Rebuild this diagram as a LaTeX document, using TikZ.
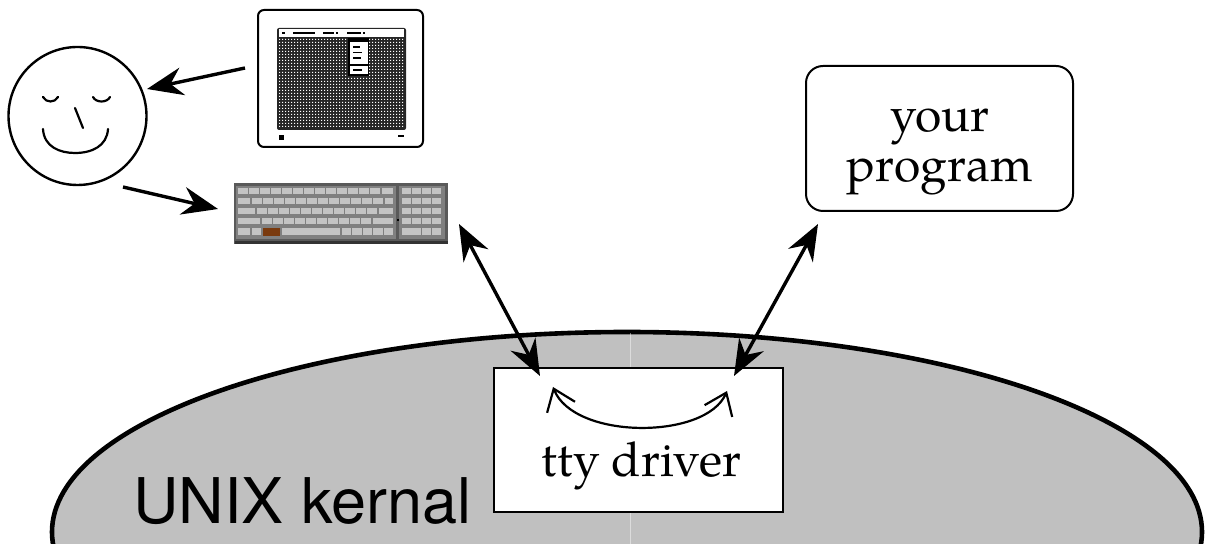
\documentclass[tikz,border=0pt]{standalone}
\usepackage{fontspec}
\setmainfont{texgyrepagella-regular.otf}
\newfontfamily\kernelfont{TeX Gyre Heros}
\usetikzlibrary{arrows.meta,patterns}

\definecolor{kernelgray}{HTML}{C0C0C0}
\definecolor{kbframe}{HTML}{5A5A5A}
\definecolor{kbgap}{HTML}{808080}
\definecolor{kbkey}{HTML}{C4C4C4}
\definecolor{kbbrown}{HTML}{7A3A0E}

% fine dot grid for the monitor screen
\pgfdeclarepatternformonly{screendots}{\pgfqpoint{0pt}{0pt}}{\pgfqpoint{1.5pt}{1.5pt}}{\pgfqpoint{1.5pt}{1.5pt}}{%
  \pgfpathrectangle{\pgfqpoint{0pt}{0pt}}{\pgfqpoint{0.7pt}{0.7pt}}\pgfusepath{fill}}

\tikzset{
  bigtip/.tip={Stealth[length=18pt,width=14pt,inset=6pt]},
  smalltip/.tip={Straight Barb[length=10pt,width=15pt]},
  bigarrow/.style={line width=1.7pt,-{bigtip}},
  bothways/.style={line width=1.7pt,{bigtip}-{bigtip}},
  loopback/.style={line width=1.1pt,{smalltip}-{smalltip}},
  serif/.style={font=\fontsize{24}{25}\selectfont,inner sep=0pt},
  key/.style={fill=kbkey},
}

\begin{document}
\begin{tikzpicture}[x=0.5pt,y=-0.5pt]
\useasboundingbox (0,0) rectangle (1205,544);
\clip (0,0) rectangle (1205,544);

% ---- kernel ----
\draw[line width=2.3pt,fill=kernelgray] (627,532) ellipse [x radius=287.5pt,y radius=100pt];
\draw[white,opacity=0.45,line width=0.5pt] (630,333) -- (630,544);
\node[font=\kernelfont\fontsize{31.5}{33}\selectfont,anchor=base west,inner sep=0pt] (kernel) at (133,524) {UNIX kernal};

% ---- tty driver ----
\node[draw,line width=1pt,fill=white,minimum width=144.5pt,minimum height=72pt,inner sep=0pt] (tty) at (638.5,440) {};
\node[serif,anchor=base] (ttylabel) at (641.5,477) {tty driver};
\coordinate (ttyL) at (540,376);
\coordinate (ttyR) at (734,376);
\coordinate (loopL) at (553,387);
\coordinate (loopR) at (727,391);
\draw[loopback] (loopL) .. controls (574,440) and (706,440) .. (loopR);

% ---- your program ----
\node[draw,line width=1pt,rounded corners=8.5pt,minimum width=133.5pt,minimum height=72.5pt,inner sep=0pt] (prog) at (939.5,138.5) {};
\node[serif,anchor=base] (progA) at (940,132) {your};
\node[serif,anchor=base] (progB) at (939.5,182) {program};
\coordinate (progIn) at (818,224);

% ---- face ----
\node[draw,circle,line width=1.2pt,minimum size=69pt,inner sep=0pt] (face) at (77.5,116) {};
\begin{scope}[line width=1.1pt,line cap=round]
  \draw (43,97) .. controls (46,103) and (55,103) .. (58,97);
  \draw (93,97) .. controls (96,103) and (107,103) .. (110,97);
  \draw (75,108) -- (83,128);
  \draw (43,129) .. controls (44,147) and (60,153) .. (75,153)
                 .. controls (92,153) and (107,146) .. (108,129);
\end{scope}
\coordinate (faceIn) at (147,89);
\coordinate (faceOut) at (123,187);

% ---- monitor ----
\node[draw,line width=1pt,rounded corners=3pt,minimum width=82.5pt,minimum height=68.5pt,inner sep=0pt] (mon) at (340.5,78.5) {};
\fill[black!85,rounded corners=1pt] (277,28) rectangle (406,130);
\fill[pattern=screendots,pattern color=white] (279,39) rectangle (404,128);
\fill[white] (279,29.5) rectangle (404,37.5);
\begin{scope}[line width=1pt]
  \draw (282,33.5) -- (285,33.5);
  \draw (293,33.5) -- (315,33.5);
  \draw (323,33.5) -- (334,33.5);
  \draw (336,33.5) -- (338,33.5);
  \draw (347,33.5) -- (361,33.5);
  \draw (363,33.5) -- (365,33.5);
\end{scope}
\fill[black] (348,38) rectangle (369,76);
\fill[white] (349.5,42) rectangle (367.5,64);
\fill[white] (349.5,66) rectangle (367.5,74);
\begin{scope}[line width=0.8pt]
  \draw (353,47) -- (360,47);
  \draw (353,52.5) -- (362,52.5);
  \draw (353,58) -- (361,58);
  \draw (353,70) -- (362,70);
\end{scope}
\fill (279,135) rectangle (284,140);
\fill (398,135) rectangle (404,137.5);
\coordinate (monOut) at (245,68);

% ---- keyboard ----
\node[fill=kbframe,minimum width=107pt,minimum height=30.5pt,inner sep=0pt] (kbd) at (341,213.5) {};
\fill[kbgap] (236,186) rectangle (396,239);
\fill[kbgap] (399,186) rectangle (445,239);
\fill[black!80] (235,241) rectangle (448,244);
% row 1
\foreach \i in {0,...,12} \fill[key] ({238+11*\i},188) rectangle ++(10,6);
\fill[key] (382,188) rectangle (393,194);
% row 2
\fill[key] (238,198) rectangle (250,204);
\foreach \i in {0,...,11} \fill[key] ({252+11*\i},198) rectangle ++(10,6);
\fill[key] (385,198) rectangle (393,204);
% row 3
\fill[key] (238,208) rectangle (255,214);
\foreach \i in {0,...,10} \fill[key] ({257+11*\i},208) rectangle ++(10,6);
\fill[key] (379,208) rectangle (393,214);
% row 4
\fill[key] (238,218) rectangle (260,224);
\foreach \i in {0,...,9} \fill[key] ({262+11*\i},218) rectangle ++(10,6);
\fill[key] (373,218) rectangle (393,224);
% row 5
\fill[key] (238,228) rectangle (250,235);
\fill[key] (252,228) rectangle (261,235);
\fill[kbbrown] (263,228) rectangle (280,236);
\fill[key] (282,228) rectangle (340,235);
\foreach \i in {0,...,4} \fill[key] ({342+10.4*\i},228) rectangle ++(9.4,7);
% keypad
\foreach \r in {0,...,3}
  \foreach \c in {0,...,3}
    \fill[key] ({402+10*\c},{188+10*\r}) rectangle ++(9,6);
\fill[key] (402,228) rectangle (421,235);
\fill[key] (422,228) rectangle (431,235);
\fill[key] (432,228) rectangle (441,235);
\fill[black] (397,219) rectangle (399,221);
\coordinate (kbdOut) at (459,224);

% ---- connectors ----
\draw[bigarrow] (monOut) -- (faceIn);
\draw[bigarrow] (faceOut) -- (218,209) coordinate (kbdIn);
\draw[bothways] (kbdOut) -- (ttyL);
\draw[bothways] (ttyR) -- (progIn);
\end{tikzpicture}
\end{document}
